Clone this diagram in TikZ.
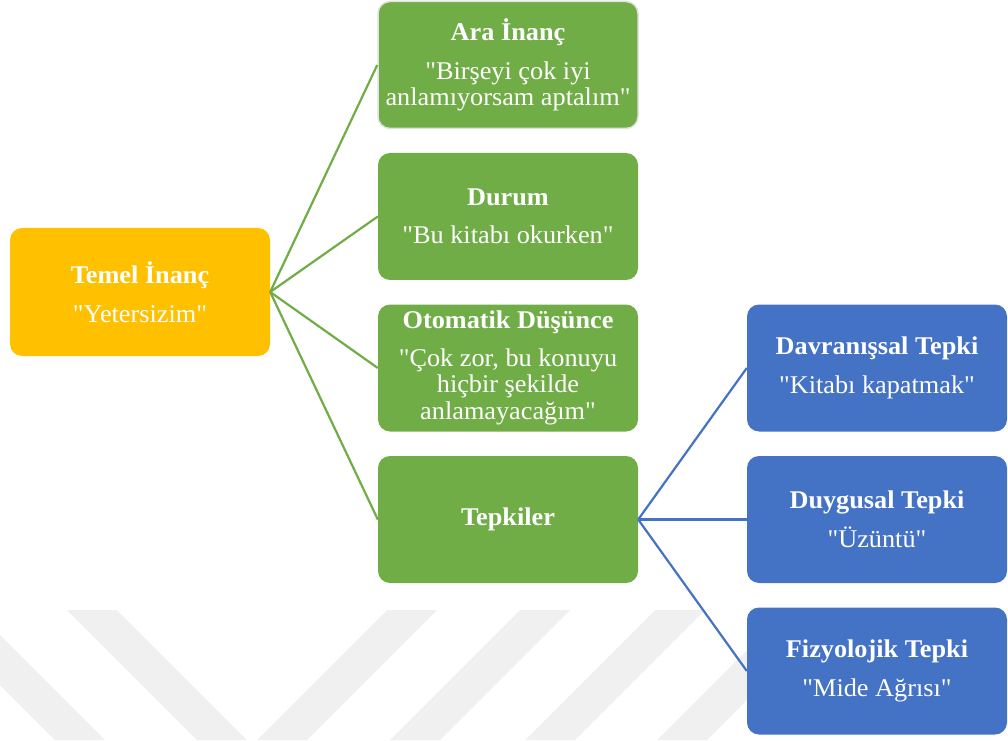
\documentclass[tikz,border=0pt]{standalone}
\usepackage{fontspec}
\setmainfont{Liberation Serif}[FakeStretch=1.03, Ligatures=TeXOff]
\definecolor{orangeC}{HTML}{FFC000}
\definecolor{greenC}{HTML}{70AD47}
\definecolor{blueC}{HTML}{4472C4}
\definecolor{wmark}{HTML}{F0F0F0}
\begin{document}
\begin{tikzpicture}[x=1pt,y=1pt,
  card/.style={rounded corners=12pt, minimum width=260pt, minimum height=127pt,
    text=white, align=center, font=\fontsize{25.5}{26.5}\selectfont, inner sep=0pt},
  org/.style={card, fill=orangeC},
  grn/.style={card, fill=greenC},
  blu/.style={card, fill=blueC},
  gline/.style={draw=greenC, line width=2.2pt},
  bline/.style={draw=blueC, line width=2.2pt},
  stripe/.style={fill=wmark, draw=none}]
\useasboundingbox (0,0) rectangle (1008,740);
% watermark stripes
\begin{scope}
\clip (0,0) rectangle (1008,130);
\fill[stripe] (-75,130) -- (-25,130) -- (105,0) -- (55,0) -- cycle;
\fill[stripe] (67,130) -- (117,130) -- (247,0) -- (197,0) -- cycle;
\fill[stripe] (387,130) -- (437,130) -- (307,0) -- (257,0) -- cycle;
\fill[stripe] (520,130) -- (570,130) -- (440,0) -- (390,0) -- cycle;
\fill[stripe] (655,130) -- (705,130) -- (575,0) -- (525,0) -- cycle;
\fill[stripe] (787,130) -- (837,130) -- (707,0) -- (657,0) -- cycle;
\end{scope}
% nodes
\node[org, minimum height=128pt] (temel) at (140,448) {\textbf{Temel İnanç}\\[12pt]"Yetersizim"};
\node[grn, draw=black!12, line width=1.5pt] (ara) at (508,675) {\textbf{Ara İnanç}\\[12pt]"Birşeyi çok iyi\\anlamıyorsam aptalım"};
\node[grn] (durum) at (508,523.5) {\textbf{Durum}\\[12pt]"Bu kitabı okurken"};
\node[grn] (oto) at (508,372) {\textbf{Otomatik Düşünce}\\[11pt]"Çok zor, bu konuyu\\hiçbir şekilde\\anlamayacağım"};
\node[grn] (tepkiler) at (508,220.5) {\textbf{Tepkiler}};
\node[blu] (davr) at (877,372) {\textbf{Davranışsal Tepki}\\[12pt]"Kitabı kapatmak"};
\node[blu] (duyg) at (877,220.5) {\textbf{Duygusal Tepki}\\[12pt]"Üzüntü"};
\node[blu] (fizy) at (877,69) {\textbf{Fizyolojik Tepki}\\[12pt]"Mide Ağrısı"};
% connectors
\draw[gline] (temel.east) -- (ara.west);
\draw[gline] (temel.east) -- (durum.west);
\draw[gline] (temel.east) -- (oto.west);
\draw[gline] (temel.east) -- (tepkiler.west);
\draw[bline] (tepkiler.east) -- (davr.west);
\draw[bline] (tepkiler.east) -- (duyg.west);
\draw[bline] (tepkiler.east) -- (fizy.west);
\end{tikzpicture}
\end{document}
